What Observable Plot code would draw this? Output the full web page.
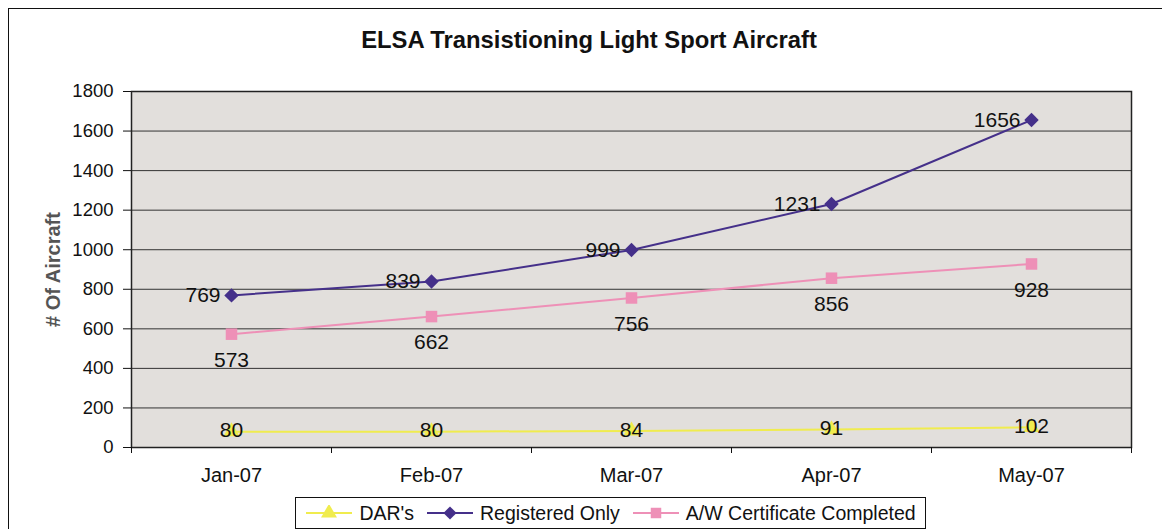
<!DOCTYPE html>
<html>
<head>
<meta charset="utf-8">
<script src="https://cdn.jsdelivr.net/npm/d3@7"></script>
<script src="https://cdn.jsdelivr.net/npm/@observablehq/plot@0.6"></script>
<style>
  html, body { margin: 0; padding: 0; background: #fff; width: 1162px; height: 529px; overflow: hidden; }
  body { font-family: "Liberation Sans", Arial, sans-serif; position: relative; }
  #frame { position: absolute; left: 8px; top: 8px; width: 1200px; height: 600px; border-left: 1.5px solid #111; border-top: 1.5px solid #111; box-sizing: border-box; }
  #title { position: absolute; left: 0; width: 1178px; top: 26px; text-align: center; font-weight: bold; font-size: 23.8px; color: #111; }
  #chart { position: absolute; left: 0; top: 0; }
  #legend { position: absolute; left: 295px; top: 497px; width: 631px; height: 32px; border: 1px solid #111; box-sizing: border-box; display: flex; align-items: center; justify-content: center; font-size: 19.5px; color: #111; background: #fff; white-space: nowrap; }
  .item { display: flex; align-items: center; margin: 0 6px; }
  .item svg { margin-right: 6px; }
  g[aria-label="y-axis label"] text { font-weight: bold; fill: #555; font-size: 20px; }
</style>
</head>
<body>
<div id="frame"></div>
<div id="chart"></div>
<div id="title">ELSA Transistioning Light Sport Aircraft</div>
<div id="legend"></div>
<script>
const months = ["Jan-07", "Feb-07", "Mar-07", "Apr-07", "May-07"];
const dars = [80, 80, 84, 91, 102];
const registered = [769, 839, 999, 1231, 1656];
const awCert = [573, 662, 756, 856, 928];
const seriesNames = ["DAR's", "Registered Only", "A/W Certificate Completed"];
const seriesColors = ["#F0EC4E", "#45308A", "#EE90B7"];
const seriesSymbols = ["triangle", "diamond2", "square"];
const yTicks = [0, 200, 400, 600, 800, 1000, 1200, 1400, 1600, 1800];

const mk = (vals, s) => vals.map((v, i) => ({ x: i + 0.5, month: months[i], value: v, series: s }));
const dDars = mk(dars, seriesNames[0]);
const dReg = mk(registered, seriesNames[1]);
const dAw = mk(awCert, seriesNames[2]);
const fmt = (d) => String(d.value);

const chart = Plot.plot({
  width: 1162,
  height: 490,
  marginLeft: 131,
  marginRight: 31,
  marginTop: 91,
  marginBottom: 43,
  style: { fontFamily: "Liberation Sans, Arial, sans-serif", fontSize: "18px", color: "#111", background: "transparent" },
  x: { domain: [0, months.length], axis: null },
  y: { domain: [0, 1800], axis: null },
  marks: [
    Plot.frame({ fill: "#E2DFDC", stroke: null }),
    Plot.gridY(yTicks, { stroke: "#333", strokeOpacity: 1, strokeWidth: 1 }),
    Plot.frame({ stroke: "#222", strokeWidth: 1.5 }),
    Plot.axisY(yTicks, { tickSize: 8, tickPadding: 10, fontSize: 18.5, tickFormat: (d) => String(d), label: "# Of Aircraft", labelAnchor: "center", labelArrow: "none", labelOffset: 86 }),
    Plot.axisX(d3.range(0, months.length + 1), { tickSize: 6, tickFormat: () => "", label: null }),
    Plot.axisX(months.map((m, i) => i + 0.5), { tickSize: 0, tickPadding: 20, fontSize: 20, tickFormat: (d) => months[Math.floor(d)], label: null }),
    Plot.lineY(dDars, { x: "x", y: "value", stroke: seriesColors[0], strokeWidth: 2 }),
    Plot.dot(dDars, { x: "x", y: "value", symbol: seriesSymbols[0], fill: seriesColors[0], r: 6 }),
    Plot.lineY(dAw, { x: "x", y: "value", stroke: seriesColors[2], strokeWidth: 2 }),
    Plot.dot(dAw, { x: "x", y: "value", symbol: seriesSymbols[2], fill: seriesColors[2], r: 6.5 }),
    Plot.lineY(dReg, { x: "x", y: "value", stroke: seriesColors[1], strokeWidth: 2 }),
    Plot.dot(dReg, { x: "x", y: "value", symbol: seriesSymbols[1], fill: seriesColors[1], r: 6.5 }),
    Plot.text(dReg, { x: "x", y: "value", text: fmt, textAnchor: "end", dx: -11, dy: 0, fontSize: 21, fill: "#111" }),
    Plot.text(dAw, { x: "x", y: "value", text: fmt, dy: 26, fontSize: 21, fill: "#111" }),
    Plot.text(dDars, { x: "x", y: "value", text: fmt, dy: -1, fontSize: 21, fill: "#111" })
  ]
});
document.getElementById("chart").appendChild(chart);

// Legend
const legend = document.getElementById("legend");
const symMap = { triangle: "Triangle", diamond2: "Diamond2", square: "Square" };
seriesNames.forEach((name, i) => {
  const item = document.createElement("div");
  item.className = "item";
  const sym = d3.symbol(d3["symbol" + symMap[seriesSymbols[i]]], 110)();
  item.innerHTML = `<svg width="48" height="16" viewBox="-24 -8 48 16"><line x1="-23" x2="23" y1="0" y2="0" stroke="${seriesColors[i]}" stroke-width="2"/><path d="${sym}" fill="${seriesColors[i]}"/></svg><span>${name}</span>`;
  legend.appendChild(item);
});
</script>
</body>
</html>
